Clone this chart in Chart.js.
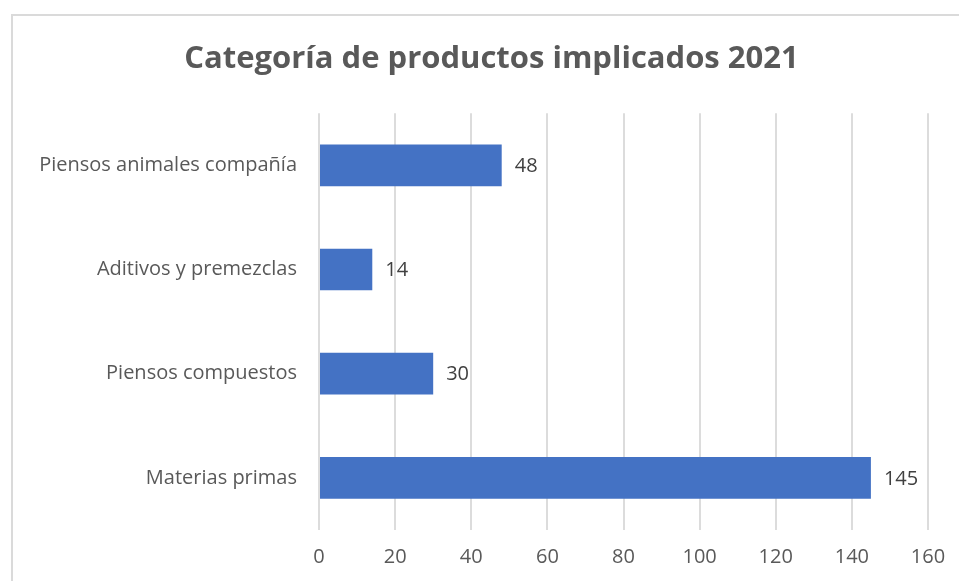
<!DOCTYPE html>
<html>
<head>
<meta charset="utf-8">
<script src="https://cdn.jsdelivr.net/npm/chart.js@4.4.1/dist/chart.umd.min.js"></script>
<style>
  html, body { margin: 0; padding: 0; background: #ffffff; }
  #wrap { position: relative; width: 959px; height: 581px; overflow: hidden; }
  #frame {
    position: absolute; left: 11px; top: 14px; width: 990px; height: 600px;
    border-left: 2px solid #dadada; border-top: 2px solid #dadada;
  }
  canvas { position: absolute; left: 0; top: 0; }
</style>
</head>
<body>
<div id="wrap">
  <div id="frame"></div>
  <!-- canvas is a bit wider than the window: the original chart is cropped on the right -->
  <canvas id="chart" width="983" height="581"></canvas>
</div>
<script>
// chart data
const categories = ["Piensos animales compañía", "Aditivos y premezclas", "Piensos compuestos", "Materias primas"];
const values = [48, 14, 30, 145];
const xTicks = [0, 20, 40, 60, 80, 100, 120, 140, 160];

const textColor = "#595959";
const fontFamily = "'Open Sans', Lato, sans-serif";

// value labels to the right of each bar
const valueLabels = {
  id: "valueLabels",
  afterDatasetsDraw(chart) {
    const ctx = chart.ctx;
    const meta = chart.getDatasetMeta(0);
    ctx.save();
    ctx.font = "20px " + fontFamily;
    ctx.fillStyle = "#404040";
    ctx.textAlign = "left";
    ctx.textBaseline = "middle";
    meta.data.forEach((bar, i) => {
      ctx.fillText(String(values[i]), bar.x + 13, bar.y + 1);
    });
    ctx.restore();
  },
};

const ctx = document.getElementById("chart").getContext("2d");
new Chart(ctx, {
  type: "bar",
  data: {
    labels: categories,
    datasets: [
      {
        data: values,
        backgroundColor: "#4472c4",
        borderWidth: 0,
        barPercentage: 0.4,
        categoryPercentage: 1,
      },
    ],
  },
  options: {
    indexAxis: "y",
    responsive: false,
    animation: false,
    layout: { padding: 0 },
    plugins: {
      legend: { display: false },
      tooltip: { enabled: false },
      title: {
        display: true,
        text: "Categoría de productos implicados 2021",
        color: textColor,
        font: { family: fontFamily, size: 31, weight: "bold" },
        padding: { top: 41, bottom: 35 },
      },
    },
    scales: {
      x: {
        min: 0,
        max: 160,
        afterBuildTicks(scale) {
          scale.ticks = xTicks.map((v) => ({ value: v }));
        },
        afterFit(scale) {
          scale.height = 51;
        },
        grid: { color: "#dcdcdc", lineWidth: 2, drawTicks: false },
        border: { display: false },
        ticks: {
          color: textColor,
          font: { family: fontFamily, size: 20 },
          padding: 15,
        },
      },
      y: {
        afterFit(scale) {
          scale.width = 319;
        },
        grid: { display: false, drawTicks: false },
        border: { display: false },
        ticks: {
          color: textColor,
          font: { family: fontFamily, size: 20 },
          padding: 22,
        },
      },
      // empty right-hand axis, only reserves room right of the plot
      spacer: {
        type: "linear",
        position: "right",
        grid: { display: false, drawTicks: false },
        border: { display: false },
        ticks: { display: false },
        afterFit(scale) {
          scale.width = 55;
        },
      },
    },
  },
  plugins: [valueLabels],
});
</script>
</body>
</html>
